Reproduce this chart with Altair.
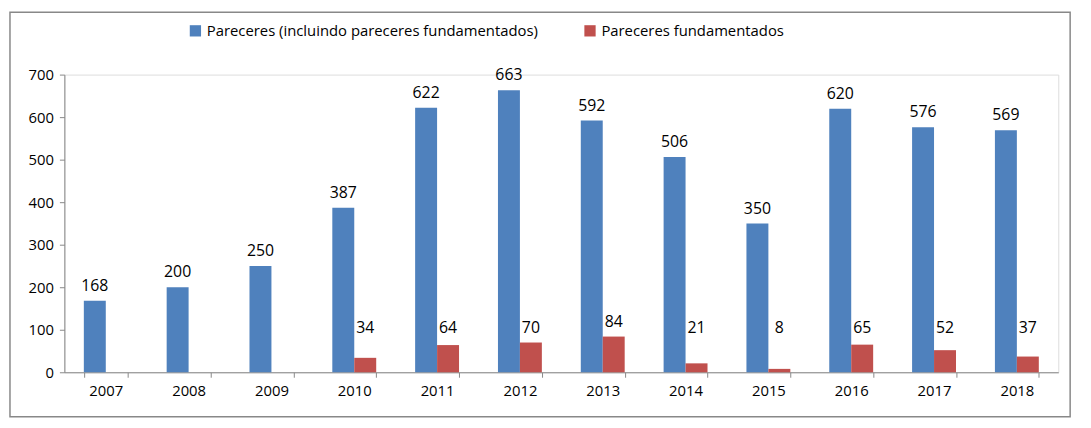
import altair as alt
import pandas as pd

years = ["2007","2008","2009","2010","2011","2012","2013","2014","2015","2016","2017","2018"]
pareceres = [168,200,250,387,622,663,592,506,350,620,576,569]
fundamentados = [None,None,None,34,64,70,84,21,8,65,52,37]
s1 = "Pareceres (incluindo pareceres fundamentados)"
s2 = "Pareceres fundamentados"

rows = []
for y, a, b in zip(years, pareceres, fundamentados):
    rows.append({"ano": y, "serie": s1, "v": a, "ly": a})
    if b is not None:
        rows.append({"ano": y, "serie": s2, "v": b, "ly": max(b, 70)})
df = pd.DataFrame(rows)

W, H = 1005, 301
xenc = alt.X("ano:N", sort=years, title=None,
             scale=alt.Scale(paddingInner=0.47, paddingOuter=0.235),
             axis=alt.Axis(labelAngle=0, labelFont="Open Sans", labelFontSize=15, labelColor="black",
                           domainColor="#888", tickColor="#888", tickBand="extent", labelPadding=6))
yscale = alt.Scale(domain=[0, 700])
off = alt.XOffset("serie:N", sort=[s1, s2], scale=alt.Scale(domain=[s1, s2]))
color = alt.Color("serie:N", sort=[s1, s2],
                  scale=alt.Scale(domain=[s1, s2], range=["#4F81BD", "#C0504D"]),
                  legend=alt.Legend(title=None, orient="none", legendX=125, legendY=-52,
                                    direction="horizontal", symbolType="square", symbolSize=130,
                                    labelFont="Open Sans", labelFontSize=15, columnPadding=45,
                                    labelLimit=0, symbolStrokeWidth=0))

bars = alt.Chart(df).mark_bar().encode(
    x=xenc, xOffset=off,
    y=alt.Y("v:Q", scale=yscale, title=None,
            axis=alt.Axis(values=list(range(0, 701, 100)), grid=False, labelFont="Open Sans",
                          labelFontSize=15, labelColor="black", domainColor="#888", tickColor="#888",
                          labelPadding=6)),
    color=color)

labels = alt.Chart(df).mark_text(baseline="bottom", dy=-7, font="Open Sans", fontSize=16, color="black").encode(
    x=xenc, xOffset=off, y=alt.Y("ly:Q", scale=yscale), text="v:Q")

frame = alt.Chart(pd.DataFrame({"a": [0]})).mark_rect(fill="white", fillOpacity=0, stroke="#888", strokeWidth=1.5, clip=False).encode(
    x=alt.value(-55), x2=alt.value(1017), y=alt.value(-63), y2=alt.value(346))

chart = alt.layer(frame, bars, labels).properties(
    width=W, height=H, autosize=alt.AutoSizeParams(type="none"),
    padding={"left": 57, "top": 65, "right": 25, "bottom": 55}
).configure_view(stroke=None).configure(background="white")

chart.save("out.html", embed_options={"renderer": "svg", "actions": False})
